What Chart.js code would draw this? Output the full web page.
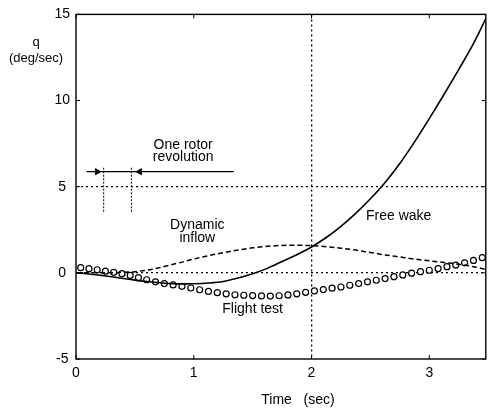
<!DOCTYPE html>
<html><head><meta charset="utf-8">
<script src="https://cdn.jsdelivr.net/npm/chart.js@4.4.1/dist/chart.umd.min.js"></script>
<style>html,body{margin:0;padding:0;background:#fff}canvas{display:block}</style>
</head><body>
<canvas id="c" width="491" height="414"></canvas>
<script>
// ---- data ----
const lineTime = [0,0.125,0.25,0.375,0.5,0.625,0.75,0.875,1,1.125,1.25,1.375,1.5,1.625,1.75,1.875,2,2.125,2.25,2.375,2.5,2.625,2.75,2.875,3,3.125,3.25,3.375,3.48];
const freeWakeQ = [0,-0.08,-0.18,-0.3,-0.42,-0.52,-0.6,-0.64,-0.63,-0.59,-0.5,-0.3,-0.05,0.26,0.66,1.05,1.5,2.05,2.7,3.45,4.3,5.25,6.35,7.6,8.95,10.35,11.8,13.3,14.75];
const dynamicInflowQ = [0,0,0,0.02,0.07,0.18,0.37,0.58,0.8,1.0,1.17,1.32,1.45,1.54,1.59,1.6,1.58,1.52,1.43,1.32,1.18,1.04,0.92,0.8,0.7,0.6,0.5,0.36,0.2];
const flightTime = [0.04,0.11,0.18,0.25,0.32,0.39,0.46,0.53,0.6,0.675,0.75,0.825,0.9,0.975,1.05,1.125,1.2,1.275,1.35,1.425,1.5,1.575,1.65,1.725,1.8,1.875,1.95,2.025,2.1,2.175,2.25,2.325,2.4,2.475,2.55,2.625,2.7,2.775,2.85,2.925,3,3.075,3.15,3.225,3.3,3.375,3.45];
const flightTestQ = [0.3,0.24,0.18,0.1,0.03,-0.05,-0.15,-0.28,-0.4,-0.52,-0.62,-0.7,-0.78,-0.88,-0.98,-1.08,-1.15,-1.22,-1.27,-1.3,-1.32,-1.34,-1.35,-1.33,-1.28,-1.22,-1.13,-1.05,-0.97,-0.89,-0.82,-0.72,-0.62,-0.52,-0.43,-0.33,-0.22,-0.12,-0.02,0.07,0.15,0.25,0.36,0.45,0.58,0.72,0.88];
const xTickValues = [0,1,2,3];
const yTickValues = [-5,0,5,10,15];
const refLinesQ = [0,5];
const refLinesT = [2];
// "one rotor revolution" marker
const revArrowT = [0.09,1.34];
const revArrowQ = [5.87,5.87];
const revHeadT = [0.18,0.54];
const revHeadQ = [5.87,5.87];
const revHeadRotation = [90,-90];
const revBarT = [0.235,0.47];
const revBarTopQ = 6.1;
const revBarBottomQ = 3.45;
// curve labels
const labelText = ["One rotor","revolution","Dynamic","inflow","Free wake","Flight test"];
const labelT = [0.91,0.91,1.03,1.03,2.74,1.5];
const labelQ = [7.4,6.7,2.75,2.0,3.32,-2.1];

const FONT = "'Liberation Sans', Arial, sans-serif";
const pts = (xs, ys) => xs.map((x,i)=>({x:x,y:ys[i]}));

const decor = {
  id:'decor',
  afterDraw(chart){
    const {ctx, chartArea:a, scales:{x,y}} = chart;
    ctx.save();
    ctx.strokeStyle='#000'; ctx.lineWidth=1.4;
    ctx.strokeRect(a.left, a.top, a.right-a.left, a.bottom-a.top);
    // inward ticks
    ctx.lineWidth=1;
    xTickValues.forEach(v=>{const px=x.getPixelForValue(v);
      ctx.beginPath();ctx.moveTo(px,a.bottom);ctx.lineTo(px,a.bottom-4);ctx.stroke();
      ctx.beginPath();ctx.moveTo(px,a.top);ctx.lineTo(px,a.top+4);ctx.stroke();});
    yTickValues.forEach(v=>{const py=y.getPixelForValue(v);
      ctx.beginPath();ctx.moveTo(a.left,py);ctx.lineTo(a.left+4,py);ctx.stroke();
      ctx.beginPath();ctx.moveTo(a.right,py);ctx.lineTo(a.right-4,py);ctx.stroke();});
    // labels
    ctx.fillStyle='#000'; ctx.font='14px '+FONT; ctx.textAlign='center'; ctx.textBaseline='middle';
    labelText.forEach((t,i)=>ctx.fillText(t, x.getPixelForValue(labelT[i]), y.getPixelForValue(labelQ[i])));
    // axis titles
    ctx.font='13px '+FONT;
    ctx.fillText('q', 36, 42);
    ctx.fillText('(deg/sec)', 36, 58);
    ctx.font='14px '+FONT;
    ctx.fillText('Time   (sec)', 298, 400);
    ctx.restore();
  }
};

const gridColor = (vals) => (c) => (c.tick && vals.includes(c.tick.value)) ? '#000' : 'rgba(0,0,0,0)';

new Chart(document.getElementById('c'), {
  type:'scatter',
  data:{datasets:[
    {label:'Free wake', data:pts(lineTime,freeWakeQ), showLine:true, borderColor:'#000', borderWidth:1.6, pointRadius:0, cubicInterpolationMode:'monotone'},
    {label:'Dynamic inflow', data:pts(lineTime,dynamicInflowQ), showLine:true, borderColor:'#000', borderWidth:1.5, borderDash:[5,3], pointRadius:0, cubicInterpolationMode:'monotone'},
    {label:'Flight test', data:pts(flightTime,flightTestQ), showLine:false, pointStyle:'circle', pointRadius:3, pointBorderWidth:1.2, pointBorderColor:'#000', pointBackgroundColor:'#fff'},
    {label:'rev arrow', data:pts(revArrowT,revArrowQ), showLine:true, borderColor:'#000', borderWidth:1.3, pointRadius:0},
    {label:'rev heads', data:pts(revHeadT,revHeadQ), showLine:false, pointStyle:'triangle', pointRadius:3.5, pointRotation:revHeadRotation, pointBackgroundColor:'#000', pointBorderColor:'#000', pointBorderWidth:1},
    {label:'rev bar 1', data:pts([revBarT[0],revBarT[0]],[revBarTopQ,revBarBottomQ]), showLine:true, borderColor:'#000', borderWidth:1, borderDash:[2,1.5], pointRadius:0},
    {label:'rev bar 2', data:pts([revBarT[1],revBarT[1]],[revBarTopQ,revBarBottomQ]), showLine:true, borderColor:'#000', borderWidth:1, borderDash:[2,1.5], pointRadius:0}
  ]},
  options:{
    responsive:false, animation:false, devicePixelRatio:1,
    layout:{padding:{left:0,right:1,top:13,bottom:0}},
    plugins:{legend:{display:false}, tooltip:{enabled:false}},
    scales:{
      x:{type:'linear', min:0, max:3.48,
        afterBuildTicks:s=>{s.ticks = xTickValues.map(v=>({value:v}));},
        afterFit:s=>{s.height=55;},
        grid:{drawTicks:false, color:gridColor(refLinesT), lineWidth:1.3},
        border:{display:false, dash:[2,3]},
        ticks:{padding:6, color:'#000', font:{family:FONT,size:14}, maxRotation:0}},
      y:{type:'linear', min:-5, max:15,
        afterBuildTicks:s=>{s.ticks = yTickValues.map(v=>({value:v}));},
        afterFit:s=>{s.width=76;},
        grid:{drawTicks:false, color:gridColor(refLinesQ), lineWidth:1.3},
        border:{display:false, dash:[2,3]},
        ticks:{padding:6, crossAlign:'center', color:'#000', font:{family:FONT,size:14}}}
    }
  },
  plugins:[decor]
});
</script>
</body></html>
